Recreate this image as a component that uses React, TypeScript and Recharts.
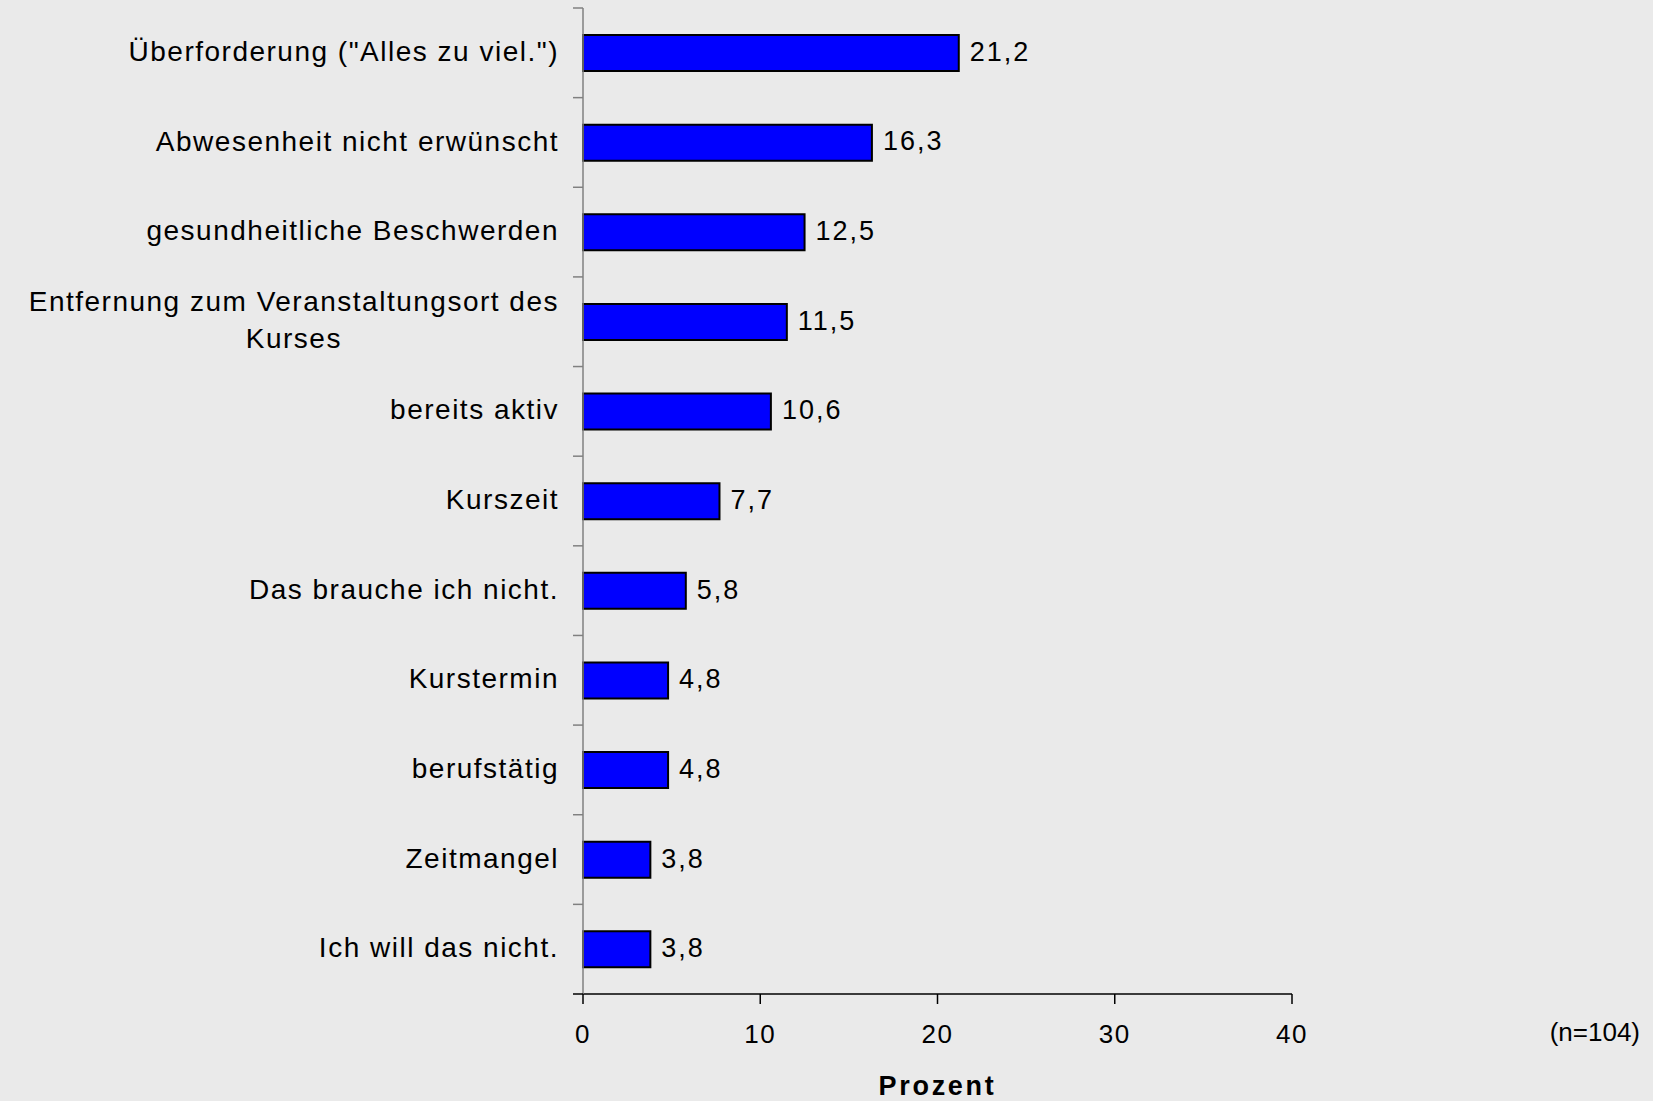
import React from 'react';
import { BarChart, Bar, XAxis, YAxis, LabelList } from 'recharts';

const categories = [
  'Überforderung ("Alles zu viel.")',
  'Abwesenheit nicht erwünscht',
  'gesundheitliche Beschwerden',
  'Entfernung zum Veranstaltungsort des|Kurses',
  'bereits aktiv',
  'Kurszeit',
  'Das brauche ich nicht.',
  'Kurstermin',
  'berufstätig',
  'Zeitmangel',
  'Ich will das nicht.',
];
const values = [21.2, 16.3, 12.5, 11.5, 10.6, 7.7, 5.8, 4.8, 4.8, 3.8, 3.8];
const xTicks = [0, 10, 20, 30, 40];

const data = categories.map((label, i) => ({ label, value: values[i] }));

const W = 1653;
const H = 1101;
const MARGIN = { top: 8, right: 361, bottom: 0, left: 0 };
const Y_AXIS_W = 583;
const X_AXIS_H = 107;
const PLOT_H = H - MARGIN.top - MARGIN.bottom - X_AXIS_H;
const BAND = PLOT_H / categories.length;
const FONT = '"Liberation Sans", Arial, sans-serif';
const CAT_SIZE = 28;
const CAT_SPACING = 1.5;
const LABEL_GAP = 24;

let ctx: CanvasRenderingContext2D | null = null;
function textWidth(s: string) {
  if (!ctx) ctx = document.createElement('canvas').getContext('2d');
  if (!ctx) return s.length * CAT_SIZE * 0.5;
  ctx.font = `${CAT_SIZE}px ${FONT}`;
  return ctx.measureText(s).width + CAT_SPACING * s.length;
}

function CategoryTick(props: any) {
  const { x, y, payload, index } = props;
  const lines: string[] = String(payload.value).split('|');
  const blockW = Math.max(...lines.map(textWidth));
  const cx = x - blockW / 2;
  const lineH = 37;
  const firstY = y - ((lines.length - 1) * lineH) / 2;
  const axisX = x + LABEL_GAP;
  return (
    <g>
      <line x1={axisX - 10} x2={axisX} y1={y - BAND / 2} y2={y - BAND / 2} stroke="#808080" strokeWidth={1.5} />
      {index === categories.length - 1 && (
        <line x1={axisX - 10} x2={axisX} y1={y + BAND / 2} y2={y + BAND / 2} stroke="#000" strokeWidth={1.5} />
      )}
      {lines.map((ln, i) => (
        <text
          key={i}
          x={cx}
          y={firstY + i * lineH}
          dy="0.29em"
          textAnchor="middle"
          fontSize={CAT_SIZE}
          fontFamily={FONT}
          letterSpacing={CAT_SPACING}
          fill="#000"
        >
          {ln}
        </text>
      ))}
    </g>
  );
}

function ValueLabel(props: any) {
  const { x, y, width, height, value } = props;
  return (
    <text
      x={x + width + 11}
      y={y + height / 2}
      dy="0.29em"
      fontSize={27}
      fontFamily={FONT}
      letterSpacing={2}
      fill="#000"
    >
      {String(value).replace('.', ',')}
    </text>
  );
}

export default function App() {
  return (
    <div
      style={{
        position: 'absolute',
        left: 0,
        top: 0,
        width: W,
        height: H,
        background: '#eaeaea',
        fontFamily: FONT,
      }}
    >
      <BarChart width={W} height={H} data={data} layout="vertical" margin={MARGIN}>
        <XAxis
          type="number"
          domain={[0, 40]}
          ticks={xTicks}
          height={X_AXIS_H}
          tickSize={10}
          tickMargin={21}
          axisLine={{ stroke: '#000', strokeWidth: 1.5 }}
          tickLine={{ stroke: '#000', strokeWidth: 1.5 }}
          tick={{ fill: '#000', fontSize: 26, fontFamily: FONT, letterSpacing: 1.5 }}
        />
        <YAxis
          type="category"
          dataKey="label"
          width={Y_AXIS_W}
          interval={0}
          tickLine={false}
          tickSize={LABEL_GAP}
          tickMargin={0}
          axisLine={{ stroke: '#808080', strokeWidth: 1.5 }}
          tick={<CategoryTick />}
        />
        <Bar
          dataKey="value"
          barSize={36}
          fill="#0000ff"
          stroke="#000"
          strokeWidth={2}
          isAnimationActive={false}
        >
          <LabelList dataKey="value" content={<ValueLabel />} />
        </Bar>
      </BarChart>
      <div
        style={{
          position: 'absolute',
          left: MARGIN.left + Y_AXIS_W,
          width: W - Y_AXIS_W - MARGIN.right,
          top: 1073,
          textAlign: 'center',
          fontSize: 27,
          lineHeight: 1,
          fontWeight: 'bold',
          letterSpacing: 2.7,
          color: '#000',
        }}
      >
        Prozent
      </div>
      <div
        style={{
          position: 'absolute',
          right: 13,
          top: 1019,
          fontSize: 26,
          lineHeight: 1,
          color: '#000',
        }}
      >
        (n=104)
      </div>
    </div>
  );
}
